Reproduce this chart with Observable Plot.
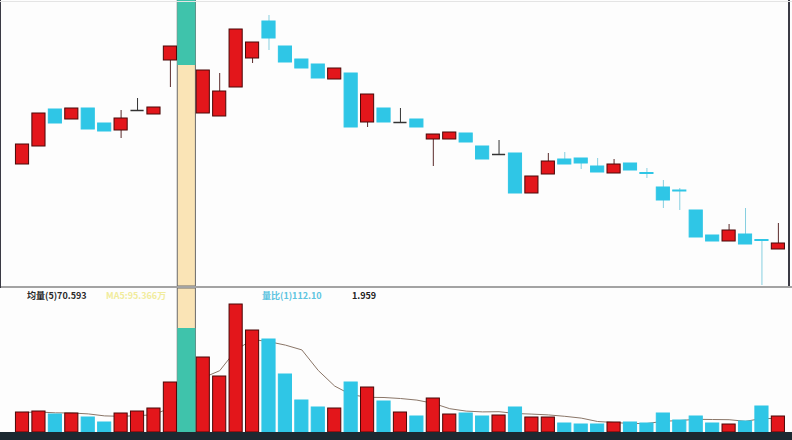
<!DOCTYPE html>
<html><head><meta charset="utf-8">
<script src="https://cdn.jsdelivr.net/npm/d3@7"></script>
<script src="https://cdn.jsdelivr.net/npm/@observablehq/plot@0.6"></script>
<style>
body{margin:0;background:#fff;}
#wrap{position:relative;width:792px;height:440px;overflow:hidden;background:#fdfdfd;font-family:"Noto Sans CJK SC","Noto Sans",sans-serif;}
#wrap svg{display:block;background:transparent;}
.abs{position:absolute;}
.lbl{position:absolute;top:290px;font-size:9px;line-height:12px;white-space:nowrap;font-weight:bold;}
</style></head>
<body><div id="wrap">
<div id="top" class="abs" style="left:0;top:0;"></div>
<div class="abs" style="left:0;top:286px;width:792px;height:2px;background:#a3a3a3;"></div>
<div id="vol" class="abs" style="left:0;top:288px;"></div>
<div class="abs" style="left:0;top:432px;width:792px;height:8px;background:#1c2931;"></div>
<div class="abs" style="left:0;top:0;width:1px;height:288px;background:#3a3a44;"></div>
<div class="abs" style="left:788px;top:0;width:2px;height:286px;background:#3a3a44;"></div>
<div class="abs" style="left:0;top:1px;width:792px;height:1px;background:#e4e4e4;"></div>
<div class="lbl" style="left:27px;color:#2a2a2a;">均量(5)70.593</div>
<div class="lbl" style="left:106px;color:#f1ec9c;">MA5:95.366万</div>
<div class="lbl" style="left:262px;color:#5cc4e0;">量比(1)112.10</div>
<div class="lbl" style="left:352px;color:#222;">1.959</div>
</div>
<script>
// Candles (price units)
const open  = [13.6,15.4,19.1,18.1,19.2,17.7,17.0,19.0,18.6,24.0,30.0,18.7,18.4,21.3,24.2,27.9,25.4,24.1,23.6,22.1,22.7,17.8,19.2,17.8,18.1,16.1,16.1,16.7,15.4,14.6,14.7,10.7,12.6,14.1,14.2,13.4,12.7,13.7,12.75,11.3,11.0,9.0,6.5,5.9,6.6,6.05,5.1];
const close = [15.6,18.7,17.7,19.2,17.1,16.9,18.2,19.0,19.3,25.4,23.5,23.0,20.9,27.1,25.8,26.2,23.8,23.2,22.2,23.2,17.3,20.6,17.8,17.8,17.3,16.6,16.8,15.8,14.1,14.6,10.7,12.4,13.9,13.6,13.7,12.8,13.6,13.0,12.65,10.0,10.9,6.3,5.9,7.0,5.6,5.95,5.7];
const high  = [15.6,18.7,19.1,19.2,19.2,17.7,19.0,20.2,19.3,25.4,30.0,23.0,22.7,27.1,25.8,28.5,25.4,24.1,23.6,23.2,22.7,20.6,19.2,19.2,18.1,16.6,16.8,16.7,15.4,16.0,14.7,12.4,14.7,14.8,14.2,14.2,14.1,13.7,13.2,12.0,11.2,9.0,6.5,7.6,9.2,6.05,7.7];
const low   = [13.6,15.4,17.7,18.1,17.1,16.9,16.2,19.0,18.6,21.3,23.5,18.7,18.4,21.3,23.7,25.0,23.8,23.2,22.2,22.1,17.3,17.3,17.8,17.8,17.3,13.4,16.1,15.8,14.1,14.6,10.7,10.7,12.6,13.6,13.1,12.8,12.7,13.0,12.2,9.2,9.0,6.3,5.9,5.9,5.6,1.5,5.1];
const volume = [20,21,18,19,15,10,19,21,24,50,104,75,56,128,102,93,58,32,25,24,50,45,31,20,16,34,18,19,16,17,25,15,15,9,8,8,10,10,9,19,12,16,9,8,11,26,16];
const highlightIndex = 10;

const RED = "#e3161b", RED_EDGE = "#4a0808", CYAN = "#2fc6e6", TEAL = "#3fc3ab", BEIGE = "#fae4b6";
const idx = d3.range(open.length);
const candles = idx.map(i => ({
  i, o: open[i], c: close[i], h: high[i], l: low[i], v: volume[i],
  dir: close[i] > open[i] ? "up" : close[i] < open[i] ? "down" : "flat"
}));
const normal = candles.filter(d => d.i !== highlightIndex);
const hl = candles.filter(d => d.i === highlightIndex);
const xOpt = {type: "band", domain: idx, paddingInner: 0.2, paddingOuter: 0.1, round: false, axis: null};
const common = {width: 792, marginLeft: 13.8, marginRight: 5.9, marginTop: 0, marginBottom: 0, x: xOpt, color: {type: "identity"}};
const wick = d => d.dir === "up" ? "#5a2a2a" : d.dir === "down" ? "#86cfe0" : "#333";

const topChart = Plot.plot({
  ...common, height: 286,
  y: {domain: [1.4, 30], axis: null},
  marks: [
    Plot.cell([highlightIndex], {x: d => d, fill: BEIGE, stroke: "#6a6a6a", strokeWidth: 1, insetLeft: -2.5, insetRight: -2.5}),
    Plot.ruleX(normal, {x: "i", y1: "l", y2: "h", stroke: wick, strokeWidth: 1}),
    Plot.barY(normal.filter(d => d.dir !== "flat"), {x: "i", y1: "o", y2: "c", fill: d => d.dir === "up" ? RED : CYAN, stroke: d => d.dir === "up" ? RED_EDGE : CYAN, strokeWidth: 1}),
    Plot.tickY(normal.filter(d => d.dir === "flat"), {x: "i", y: "c", stroke: "#333", strokeWidth: 1.5}),
    Plot.barY(hl, {x: "i", y1: "o", y2: "c", fill: TEAL, insetLeft: -2.5, insetRight: -2.5})
  ]
});
document.getElementById("top").appendChild(topChart);

const volChart = Plot.plot({
  ...common, height: 144,
  y: {domain: [0, 144], axis: null},
  marks: [
    Plot.cell([highlightIndex], {x: d => d, fill: BEIGE, stroke: "#6a6a6a", strokeWidth: 1, insetLeft: -2.5, insetRight: -2.5}),
    Plot.lineY(candles, Plot.windowY({k: 5, anchor: "end"}, {x: "i", y: "v", stroke: "#8a7668", strokeWidth: 1})),
    Plot.barY(normal, {x: "i", y: "v", fill: d => d.dir === "down" ? CYAN : RED, stroke: d => d.dir === "down" ? CYAN : RED_EDGE, strokeWidth: 1}),
    Plot.barY(hl, {x: "i", y: "v", fill: TEAL, insetLeft: -2.5, insetRight: -2.5})
  ]
});
document.getElementById("vol").appendChild(volChart);
</script>
</body></html>
